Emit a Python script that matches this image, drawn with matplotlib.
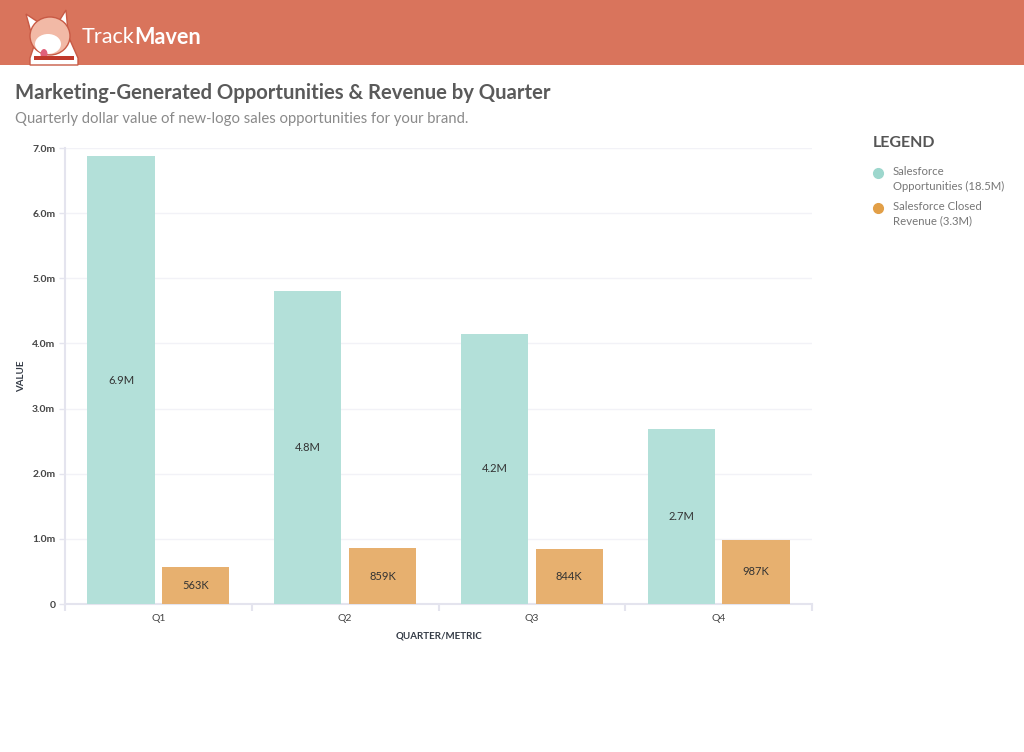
"""Marketing-generated opportunities and revenue by quarter (TrackMaven style)."""

import matplotlib

matplotlib.use("Agg")
import matplotlib.pyplot as plt
import numpy as np
from matplotlib.lines import Line2D
from matplotlib.patches import Ellipse, Polygon, Rectangle

QUARTERS = ["Q1", "Q2", "Q3", "Q4"]
OPPORTUNITIES = [6.87, 4.80, 4.15, 2.69]  # millions
CLOSED_REVENUE = [0.563, 0.859, 0.844, 0.987]  # millions
OPP_LABELS = ["6.9M", "4.8M", "4.2M", "2.7M"]
REV_LABELS = ["563K", "859K", "844K", "987K"]
Y_TICKS = [0, 1, 2, 3, 4, 5, 6, 7]
Y_TICK_LABELS = ["0", "1.0m", "2.0m", "3.0m", "4.0m", "5.0m", "6.0m", "7.0m"]
LEGEND_LABELS = ["Salesforce\nOpportunities (18.5M)", "Salesforce Closed\nRevenue (3.3M)"]

TEAL = "#B3E0D9"
ORANGE = "#E7B06F"
TEAL_DOT = "#9DD7CD"
ORANGE_DOT = "#E29F47"
HEADER = "#D9745C"
AXIS_CLR = "#E4E4EE"
W, H = 1024, 752


def fx(px):
    return px / W


def fy(py):
    return 1 - py / H


def draw_logo(fig) -> None:
    """Rough corgi mascot in the header."""
    def add(p):
        p.set_transform(fig.transFigure)
        fig.patches.append(p)

    def pts(coords):
        return [(fx(a), fy(b)) for a, b in coords]

    add(Polygon(pts([(30, 58), (36, 40), (70, 40), (78, 58), (78, 65), (30, 65)]),
                facecolor="white", edgecolor="#C85A45", lw=1))
    add(Polygon(pts([(26, 14), (32, 36), (44, 26)]), facecolor="white", edgecolor="#C85A45", lw=1))
    add(Polygon(pts([(66, 10), (56, 26), (68, 32)]), facecolor="white", edgecolor="#C85A45", lw=1))
    add(Ellipse((fx(50), fy(36)), 40 / W, 38 / H, facecolor="#F2B9A6", edgecolor="#C85A45", lw=1))
    add(Ellipse((fx(48), fy(44)), 26 / W, 20 / H, facecolor="white", edgecolor="none"))
    add(Ellipse((fx(44), fy(54)), 7 / W, 10 / H, facecolor="#E0607A", edgecolor="none"))
    add(Rectangle((fx(34), fy(60)), 40 / W, 4 / H, facecolor="#C0392B", edgecolor="none"))


def main() -> None:
    plt.rcParams["font.family"] = ["Lato", "DejaVu Sans"]
    fig = plt.figure(figsize=(W / 100, H / 100), dpi=100)
    fig.patch.set_facecolor("white")

    # header band
    fig.patches.append(Rectangle((0, fy(65)), 1, 65 / H, transform=fig.transFigure,
                                 facecolor=HEADER, edgecolor="none", zorder=0))
    draw_logo(fig)
    t1 = fig.text(fx(82), fy(37), "Track", color="white", fontsize=15.6, va="center", ha="left")
    fig.canvas.draw()
    ext = t1.get_window_extent()
    fig.text(ext.x1 / W, fy(37), "Maven", color="white", fontsize=15.6, fontweight="bold",
             va="center", ha="left")

    fig.text(fx(15), fy(93), "Marketing-Generated Opportunities & Revenue by Quarter",
             color="#5a5a5a", fontsize=14.6, fontweight="bold", va="center", ha="left")
    fig.text(fx(15), fy(119), "Quarterly dollar value of new-logo sales opportunities for your brand.",
             color="#8a8a8a", fontsize=10.7, va="center", ha="left")

    ax = fig.add_axes([fx(65), fy(604), fx(812) - fx(65), fy(148) - fy(604)])
    x = np.arange(len(QUARTERS))
    width = 0.36
    b1 = ax.bar(x - 0.2, OPPORTUNITIES, width, color=TEAL, zorder=3)
    b2 = ax.bar(x + 0.2, CLOSED_REVENUE, width, color=ORANGE, zorder=3)
    for rect, lab in zip(b1, OPP_LABELS):
        ax.text(rect.get_x() + rect.get_width() / 2, rect.get_height() / 2, lab,
                ha="center", va="center", fontsize=8, color="#333333", zorder=4)
    for rect, lab in zip(b2, REV_LABELS):
        ax.text(rect.get_x() + rect.get_width() / 2, rect.get_height() / 2, lab,
                ha="center", va="center", fontsize=8, color="#333333", zorder=4)

    ax.set_xlim(-0.5, 3.5)
    ax.set_ylim(0, 7)
    ax.set_yticks(Y_TICKS)
    ax.set_yticklabels(Y_TICK_LABELS, fontsize=7.5, color="#444444", fontweight="bold")
    ax.set_xticks(x)
    ax.set_xticklabels(QUARTERS, fontsize=7.5, color="#444444")
    ax.set_xticks(np.arange(-0.5, 4, 1), minor=True)
    ax.tick_params(axis="x", which="major", length=0, pad=7)
    ax.tick_params(axis="x", which="minor", length=5, color=AXIS_CLR, width=1.5)
    ax.tick_params(axis="y", length=4, color=AXIS_CLR, width=1, pad=3)
    ax.grid(axis="y", color="#F2F2F7", linewidth=1, zorder=0)
    for s in ["top", "right"]:
        ax.spines[s].set_visible(False)
    for s in ["left", "bottom"]:
        ax.spines[s].set_color(AXIS_CLR)
        ax.spines[s].set_linewidth(1.5)
    ax.set_ylabel("VALUE", fontsize=7, fontweight="bold", color="#333a45", labelpad=4)
    ax.set_xlabel("QUARTER/METRIC", fontsize=7, fontweight="bold", color="#333a45", labelpad=6)

    # legend
    fig.text(fx(873), fy(143), "LEGEND", color="#555555", fontsize=11.5, fontweight="bold",
             va="center", ha="left")
    for py, clr, lab in zip([173, 208], [TEAL_DOT, ORANGE_DOT], LEGEND_LABELS):
        fig.lines.append(Line2D([fx(878)], [fy(py)], transform=fig.transFigure, marker="o",
                                markersize=7, color=clr, linestyle="none"))
        fig.text(fx(893), fy(py - 7), lab, color="#777777", fontsize=8.2, va="top", ha="left",
                 linespacing=1.4)

    fig.savefig("out.png", dpi=100)


if __name__ == "__main__":
    main()
